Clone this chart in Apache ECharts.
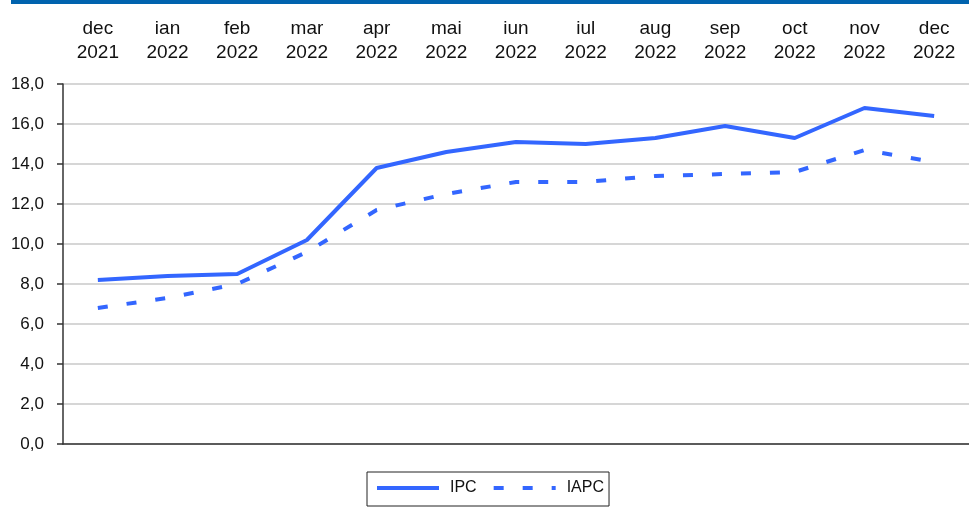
<!DOCTYPE html>
<html>
<head>
<meta charset="utf-8">
<script src="https://cdn.jsdelivr.net/npm/echarts@6/dist/echarts.min.js"></script>
<style>
  html, body { margin: 0; padding: 0; background: #fff; }
  #chart { width: 969px; height: 509px; }
</style>
</head>
<body>
<div id="chart"></div>
<script>
// luni (categorii)
const months = [
  "dec\n2021", "ian\n2022", "feb\n2022", "mar\n2022", "apr\n2022", "mai\n2022", "iun\n2022",
  "iul\n2022", "aug\n2022", "sep\n2022", "oct\n2022", "nov\n2022", "dec\n2022",
];
// valori
const ipc = [8.2, 8.4, 8.5, 10.2, 13.8, 14.6, 15.1, 15.0, 15.3, 15.9, 15.3, 16.8, 16.4];
const iapc = [6.8, 7.3, 8.0, 9.6, 11.7, 12.5, 13.1, 13.1, 13.4, 13.5, 13.6, 14.7, 14.1];

const lineColor = "#3366ff";
const font = "'Liberation Sans', Arial, sans-serif";

const myChart = echarts.init(document.getElementById("chart"));

const option = {
  animation: false,
  textStyle: { fontFamily: font },
  graphic: [
    {
      // banda albastra de sus
      type: "rect",
      shape: { x: 11, y: 0, width: 958, height: 4 },
      style: { fill: "#0063ae" },
    },
  ],
  grid: {
    left: 63,
    top: 84,
    width: 915, // iese putin din imagine, ca in original
    height: 360,
  },
  legend: {
    left: 367,
    top: 472,
    padding: [8, 5, 10, 8],
    borderColor: "#222",
    borderWidth: 1,
    itemWidth: 62,
    itemHeight: 14,
    itemGap: 15,
    // ascunde cercul din iconita legendei, ramane doar linia
    itemStyle: { opacity: 0 },
    lineStyle: { width: 4 },
    textStyle: {
      fontFamily: font,
      fontSize: 16,
      color: "#111",
      padding: [0, 0, 0, 6],
    },
    data: ["IPC", "IAPC"],
  },
  xAxis: [
    {
      type: "category",
      data: months,
      position: "bottom",
      axisLine: { lineStyle: { color: "#333", width: 1.5 } },
      axisTick: { length: 7, lineStyle: { color: "#333", width: 1.5 } },
      axisLabel: { show: false },
    },
    {
      type: "category",
      data: months,
      position: "top",
      axisLine: { show: false },
      axisTick: { show: false },
      axisLabel: {
        interval: 0,
        margin: 19,
        fontSize: 19,
        lineHeight: 24,
        color: "#111",
        fontFamily: font,
      },
    },
  ],
  yAxis: {
    type: "value",
    min: 0,
    max: 18,
    interval: 2,
    axisLine: { show: true, lineStyle: { color: "#333", width: 1.5 } },
    axisTick: { show: true, length: 6, lineStyle: { color: "#333", width: 1.5 } },
    axisLabel: {
      margin: 19,
      fontSize: 17,
      color: "#111",
      fontFamily: font,
      formatter: (v) => v.toFixed(1).replace(".", ","),
    },
    splitLine: { lineStyle: { color: "#c8c8c8", width: 1.5 } },
  },
  series: [
    {
      name: "IPC",
      type: "line",
      data: ipc,
      symbol: "none",
      lineStyle: { color: lineColor, width: 4 },
      itemStyle: { color: lineColor },
    },
    {
      name: "IAPC",
      type: "line",
      data: iapc,
      symbol: "none",
      lineStyle: { color: lineColor, width: 4, type: [10, 19], cap: "butt" },
      itemStyle: { color: lineColor },
    },
  ],
};

option && myChart.setOption(option);
</script>
</body>
</html>
